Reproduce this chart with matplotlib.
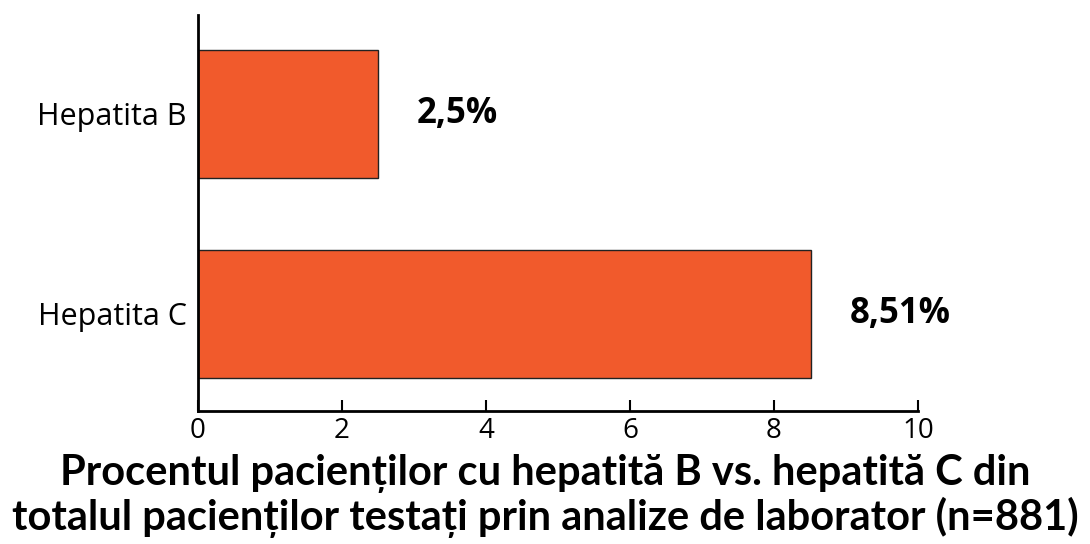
import matplotlib.pyplot as plt

categories = ['Hepatita C', 'Hepatita B']
values = [8.51, 2.5]
value_labels = ['8,51%', '2,5%']
x_ticks = [0, 2, 4, 6, 8, 10]
title = ('Procentul pacienților cu hepatită B vs. hepatită C din\n'
         'totalul pacienților testați prin analize de laborator (n=881)')

plt.rcParams['font.family'] = ['Open Sans', 'DejaVu Sans']

fig = plt.figure(figsize=(10.9, 5.44), dpi=100)
ax = fig.add_axes([198 / 1090, 1 - 411 / 544, 720 / 1090, 396 / 544])

ax.barh(range(len(categories)), values, height=0.64,
        color='#F15A2C', edgecolor='#222222', linewidth=1)

for i, (v, lab) in enumerate(zip(values, value_labels)):
    ax.annotate(lab, (v, i), xytext=(28, 0), textcoords='offset points',
                va='center', ha='left', fontsize=25, fontweight='bold')

ax.set_xlim(0, 10)
ax.set_ylim(-0.485, 1.495)
ax.set_xticks(x_ticks)
ax.set_yticks(range(len(categories)))
ax.set_yticklabels(categories)
ax.tick_params(axis='x', direction='in', length=8, width=1.5, labelsize=20, pad=4)
ax.tick_params(axis='y', length=0, labelsize=22, pad=8)

for s in ['top', 'right']:
    ax.spines[s].set_visible(False)
for s in ['left', 'bottom']:
    ax.spines[s].set_linewidth(2)

fig.text(0.5, 1 - 496 / 544, title, ha='center', va='center',
         fontsize=30, fontweight='bold', linespacing=1.14,
         family=['Lato', 'DejaVu Sans'])

fig.savefig('out.png', dpi=100)
